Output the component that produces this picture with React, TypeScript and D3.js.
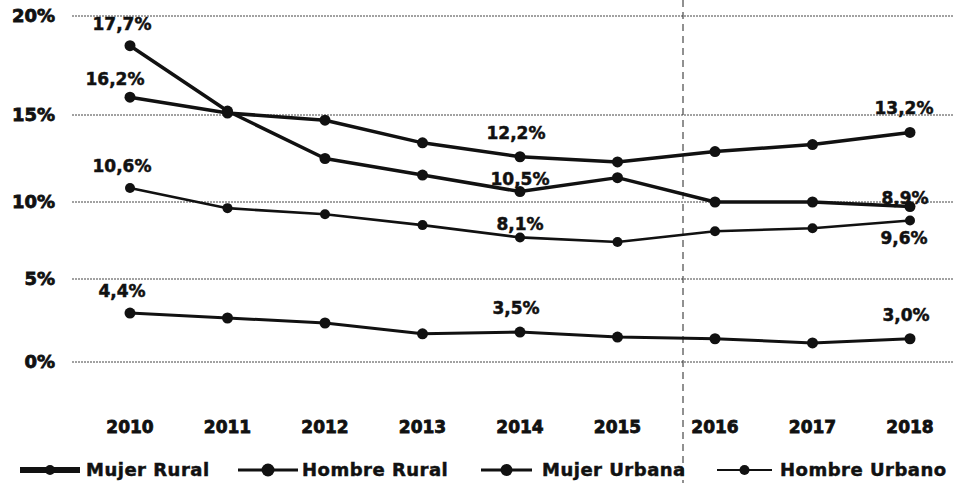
import React from "react";
import * as d3 from "d3";

// data
const years = ["2010", "2011", "2012", "2013", "2014", "2015", "2016", "2017", "2018"];
const yTicks = [0, 5, 10, 15, 20];
const seriesNames = ["Mujer Rural", "Hombre Rural", "Mujer Urbana", "Hombre Urbano"];

const mujerUrbana = [18.5, 15.2, 12.5, 11.55, 10.6, 11.4, 10.0, 10.0, 9.7];
const hombreUrbano = [15.9, 15.1, 14.7, 13.4, 12.6, 12.3, 12.9, 13.3, 14.0];
const hombreRural = [10.8, 9.6, 9.2, 8.5, 7.7, 7.4, 8.1, 8.3, 8.8];
const mujerRural = [2.95, 2.65, 2.35, 1.7, 1.8, 1.5, 1.4, 1.15, 1.4];

// value labels printed on the chart (as printed, not as plotted)
const labelsMujerUrbana = ["17,7%", "", "", "", "10,5%", "", "", "", "8,9%"];
const labelsHombreUrbano = ["16,2%", "", "", "", "12,2%", "", "", "", "13,2%"];
const labelsHombreRural = ["10,6%", "", "", "", "8,1%", "", "", "", "9,6%"];
const labelsMujerRural = ["4,4%", "", "", "", "3,5%", "", "", "", "3,0%"];

const W = 953;
const H = 483;
const FONT = "'DejaVu Sans', sans-serif";
const INK = "#111";

export default function App() {
  const x = d3.scalePoint<string>().domain(years).range([130, 910]);
  // the scan is stretched unevenly, so the gridlines are not equally spaced
  const y = d3.scaleLinear().domain(yTicks).range([362, 279, 202, 115, 16]);

  const line = d3
    .line<number>()
    .x((_, i) => x(years[i]) as number)
    .y((d) => y(d));

  const series = [
    { name: seriesNames[2], values: mujerUrbana, labels: labelsMujerUrbana, sw: 3.5, r: 5.5 },
    { name: seriesNames[3], values: hombreUrbano, labels: labelsHombreUrbano, sw: 3.5, r: 5.5 },
    { name: seriesNames[1], values: hombreRural, labels: labelsHombreRural, sw: 2.6, r: 5 },
    { name: seriesNames[0], values: mujerRural, labels: labelsMujerRural, sw: 3, r: 5.5 },
  ];

  // label placement relative to its point: [dx, dy]
  const labelOffset = (name: string, i: number): [number, number] => {
    if (name === "Mujer Urbana" && i === 4) return [0, -7];
    if (name === "Mujer Urbana" && i === 8) return [-5, -3];
    if (name === "Hombre Rural" && i === 4) return [0, -7];
    if (name === "Hombre Rural" && i === 8) return [-6, 24];
    if (name === "Hombre Urbano" && i === 0) return [-15, -12];
    if (name === "Hombre Urbano" && i === 8) return [-6, -18];
    if (i === 0) return [-8, -16];
    return [-4, -18];
  };

  const legendItems = [
    { name: seriesNames[0], x0: 20, x1: 80, sw: 6, r: 5, tx: 86 },
    { name: seriesNames[1], x0: 238, x1: 298, sw: 3, r: 6.5, tx: 302 },
    { name: seriesNames[2], x0: 481, x1: 532, sw: 3, r: 6, tx: 542 },
    { name: seriesNames[3], x0: 717, x1: 772, sw: 2, r: 5, tx: 780 },
  ];

  const heavy = { stroke: INK, strokeWidth: 0.5, fill: INK, fontWeight: "bold" as const };

  return (
    <svg
      width={W}
      height={H}
      style={{ position: "absolute", left: 0, top: 0, background: "#fff" }}
      fontFamily={FONT}
    >
      {/* gridlines + y labels */}
      {yTicks.map((t) => (
        <g key={t}>
          <line
            x1={72}
            x2={W}
            y1={y(t)}
            y2={y(t)}
            stroke="#444"
            strokeWidth={1}
            strokeDasharray="2,1"
          />
          <text x={55} y={y(t)} dy="0.35em" textAnchor="end" fontSize={18} {...heavy} strokeWidth={0.8}>
            {t}%
          </text>
        </g>
      ))}

      {/* fold line from the scan */}
      <line x1={683} x2={683} y1={0} y2={H} stroke="#222" strokeWidth={1} strokeDasharray="7,5" />

      {/* x labels */}
      {years.map((yr) => (
        <text key={yr} x={x(yr)} y={433} textAnchor="middle" fontSize={17} {...heavy} strokeWidth={0.8}>
          {yr}
        </text>
      ))}

      {/* lines */}
      {series.map((s) => (
        <g key={s.name}>
          <path d={line(s.values) as string} fill="none" stroke={INK} strokeWidth={s.sw} strokeLinejoin="round" />
          {s.values.map((v, i) => (
            <circle key={i} cx={x(years[i])} cy={y(v)} r={s.r} fill={INK} />
          ))}
          {s.labels.map((lab, i) => {
            if (!lab) return null;
            const [dx, dy] = labelOffset(s.name, i);
            return (
              <text
                key={"l" + i}
                x={(x(years[i]) as number) + dx}
                y={y(s.values[i]) + dy}
                textAnchor="middle"
                fontSize={17}
                {...heavy}
              >
                {lab}
              </text>
            );
          })}
        </g>
      ))}

      {/* legend */}
      {legendItems.map((it) => (
        <g key={it.name}>
          <line x1={it.x0} x2={it.x1} y1={470} y2={470} stroke={INK} strokeWidth={it.sw} />
          <circle cx={(it.x0 + it.x1) / 2} cy={470} r={it.r} fill={INK} />
          <text x={it.tx} y={476} fontSize={18} {...heavy} letterSpacing={0.5}>
            {it.name}
          </text>
        </g>
      ))}
    </svg>
  );
}
